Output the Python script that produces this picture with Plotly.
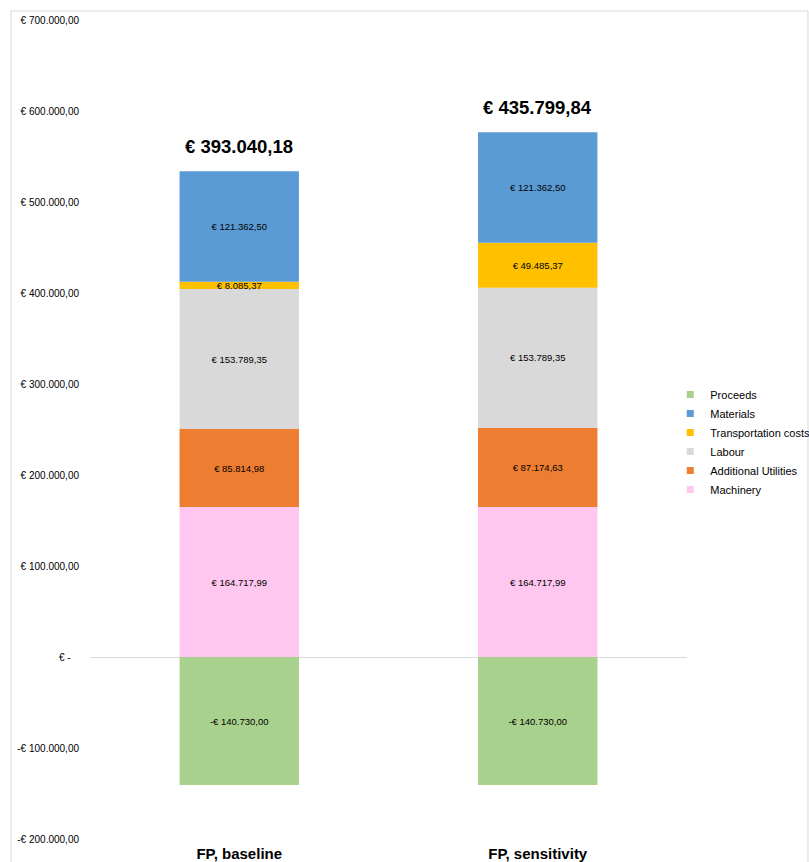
import plotly.graph_objects as go

# Cost breakdown per scenario (EUR)
scenarios = ["FP, baseline", "FP, sensitivity"]
machinery = [164717.99, 164717.99]
additional_utilities = [85814.98, 87174.63]
labour = [153789.35, 153789.35]
transportation = [8085.37, 49485.37]
materials = [121362.50, 121362.50]
proceeds = [-140730.00, -140730.00]
net_totals = [393040.18, 435799.84]

series = [
    ("Machinery", machinery, "#FFC7EF"),
    ("Additional Utilities", additional_utilities, "#ED7D31"),
    ("Labour", labour, "#D9D9D9"),
    ("Transportation costs", transportation, "#FFC000"),
    ("Materials", materials, "#5B9BD5"),
    ("Proceeds", proceeds, "#A9D18E"),
]

y_ticks = [-200000, -100000, 0, 100000, 200000, 300000, 400000, 500000, 600000, 700000]


def euro(v):
    s = f"{abs(v):,.2f}".replace(",", "X").replace(".", ",").replace("X", ".")
    return ("-€ " if v < 0 else "€ ") + s


def euro_tick(v):
    if v == 0:
        return "€ -\u00a0\u00a0\u00a0"
    return euro(v)


FONT = "Liberation Sans, Arial, sans-serif"

fig = go.Figure()
for name, vals, color in series:
    fig.add_trace(go.Bar(
        x=scenarios, y=vals, name=name,
        marker=dict(color=color, line=dict(width=0)),
        text=[euro(v) for v in vals],
        textposition="inside", insidetextanchor="middle",
        textangle=0, constraintext="none",
        insidetextfont=dict(family=FONT, size=9.5, color="#000000"),
        showlegend=False, hoverinfo="skip",
    ))
    # legend entry with a small square swatch
    fig.add_trace(go.Scatter(
        x=[None], y=[None], mode="markers", name=name,
        marker=dict(symbol="square", size=7, color=color),
        showlegend=True,
    ))

# net totals above each stack
for i, cat in enumerate(scenarios):
    top = machinery[i] + additional_utilities[i] + labour[i] + transportation[i] + materials[i]
    fig.add_annotation(
        x=cat, y=top, text=euro(net_totals[i]), showarrow=False,
        yanchor="bottom", yshift=12,
        font=dict(family=FONT, size=18.5, color="#000000", weight="bold"),
    )

# chart border
W, H = 809, 862
ml, mr, mt, mb = 90, 122, 20, 23
pw, ph = W - ml - mr, H - mt - mb
fig.add_shape(
    type="rect", xref="paper", yref="paper",
    x0=(11 - ml) / pw, x1=(808 - ml) / pw,
    y0=(H - mb - 900) / ph, y1=(H - mb - 11) / ph,
    line=dict(color="#D9D9D9", width=1), fillcolor="rgba(0,0,0,0)", layer="below",
)

fig.update_layout(
    width=W, height=H,
    margin=dict(l=ml, r=mr, t=mt, b=mb, autoexpand=False),
    barmode="relative", bargap=0.6,
    plot_bgcolor="white", paper_bgcolor="white",
    font=dict(family=FONT, color="#000000"),
    legend=dict(
        x=0.972, xanchor="left", y=0.5605, yanchor="top",
        traceorder="reversed", font=dict(family=FONT, size=11, color="#000000"),
        bgcolor="rgba(0,0,0,0)", itemclick=False,
    ),
    xaxis=dict(
        showgrid=False, showline=False, ticks="",
        tickfont=dict(family=FONT, size=15, color="#000000", weight="bold"),
        ticklabelstandoff=4,
    ),
    yaxis=dict(
        range=[-200000, 700000], tickvals=y_ticks,
        ticktext=[euro_tick(v) for v in y_ticks],
        showgrid=False, showline=False, ticks="",
        zeroline=True, zerolinecolor="#D9D9D9", zerolinewidth=1,
        tickfont=dict(family=FONT, size=10, color="#000000"),
        ticklabelstandoff=10,
    ),
)

fig.write_html("out.html")
